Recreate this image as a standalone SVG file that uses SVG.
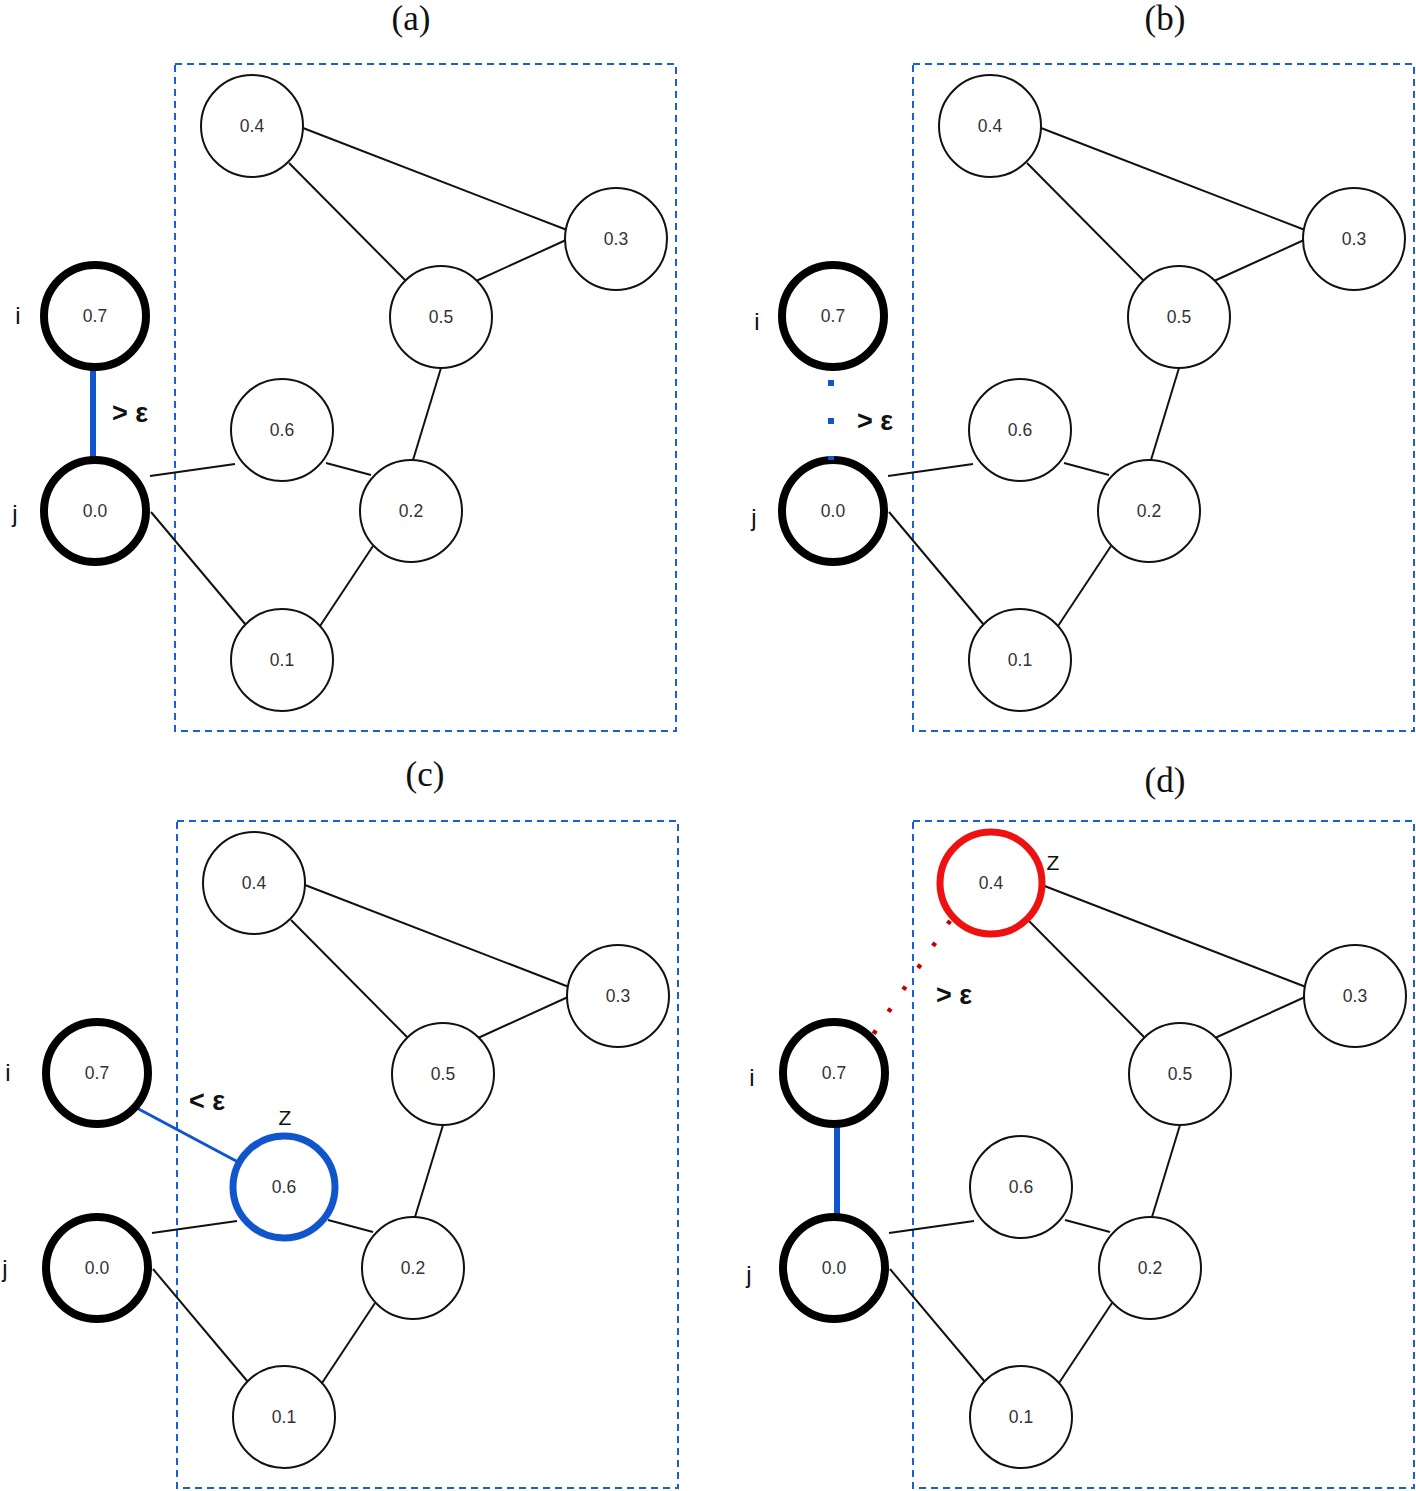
<svg xmlns="http://www.w3.org/2000/svg" width="1416" height="1491" viewBox="0 0 1416 1491">
<style>
  .frame{fill:none;stroke:#1a5fd6;stroke-width:2;stroke-dasharray:7 5}
  .edge{stroke:#111;stroke-width:2;fill:none}
  .node circle{fill:#fff;stroke:#111;stroke-width:2}
  .node.big circle{stroke:#000;stroke-width:8}
  .node.blue circle{stroke:#1155cc;stroke-width:7}
  .node.red circle{stroke:#ee1111;stroke-width:7}
  .node text{font-family:"Liberation Sans",Arial,sans-serif;font-size:17.5px;fill:#333;text-anchor:middle;dominant-baseline:central}
  .title{font-family:"Liberation Serif","DejaVu Serif",serif;font-size:35px;fill:#111;text-anchor:middle}
  .lbl{font-family:"Liberation Sans",Arial,sans-serif;font-size:24px;fill:#111;text-anchor:middle}
  .eps{font-family:"Liberation Sans",Arial,sans-serif;font-size:27px;font-weight:bold;fill:#111}
</style>

<g id="titles">
  <text class="title" x="411" y="30">(a)</text>
  <text class="title" x="1165" y="30">(b)</text>
  <text class="title" x="425" y="786">(c)</text>
  <text class="title" x="1165" y="792">(d)</text>
</g>

<g id="frames">
  <rect class="frame" x="175" y="64" width="501" height="667"/>
  <rect class="frame" x="913" y="64" width="501" height="667"/>
  <rect class="frame" x="177" y="821" width="501" height="667"/>
  <rect class="frame" x="913" y="821" width="501" height="667"/>
</g>

<!-- Panel (a) -->
<g id="connectors-a">
  <line class="edge" x1="303" y1="128" x2="567" y2="230"/>
  <line class="edge" x1="289" y1="163" x2="406" y2="281"/>
  <line class="edge" x1="566" y1="240" x2="476" y2="281"/>
  <line class="edge" x1="441" y1="368" x2="413" y2="460"/>
  <line class="edge" x1="326" y1="463" x2="371" y2="475"/>
  <line class="edge" x1="150" y1="476" x2="235" y2="464"/>
  <line class="edge" x1="151" y1="512" x2="246" y2="625"/>
  <line class="edge" x1="373" y1="546" x2="320" y2="626"/>
  <line x1="93" y1="368" x2="93" y2="459" stroke="#1155cc" stroke-width="6"/>
</g>
<g id="a-n04" class="node"><circle cx="252" cy="126" r="51"/><text x="252" y="126">0.4</text></g>
<g id="a-n03" class="node"><circle cx="616" cy="239" r="51"/><text x="616" y="239">0.3</text></g>
<g id="a-n05" class="node"><circle cx="441" cy="317" r="51"/><text x="441" y="317">0.5</text></g>
<g id="a-n06" class="node"><circle cx="282" cy="430" r="51"/><text x="282" y="430">0.6</text></g>
<g id="a-n02" class="node"><circle cx="411" cy="511" r="51"/><text x="411" y="511">0.2</text></g>
<g id="a-n01" class="node"><circle cx="282" cy="660" r="51"/><text x="282" y="660">0.1</text></g>
<g id="a-ni" class="node big"><circle cx="95" cy="316" r="51"/><text x="95" y="316">0.7</text></g>
<g id="a-nj" class="node big"><circle cx="95" cy="511" r="51"/><text x="95" y="511">0.0</text></g>
<text class="lbl" x="18" y="324">i</text>
<text class="lbl" x="15" y="522">j</text>
<text class="eps" x="112" y="422">&gt; ε</text>

<!-- Panel (b) -->
<g id="connectors-b">
  <g transform="translate(738,0)">
    <line class="edge" x1="303" y1="128" x2="567" y2="230"/>
    <line class="edge" x1="289" y1="163" x2="406" y2="281"/>
    <line class="edge" x1="566" y1="240" x2="476" y2="281"/>
    <line class="edge" x1="441" y1="368" x2="413" y2="460"/>
    <line class="edge" x1="326" y1="463" x2="371" y2="475"/>
    <line class="edge" x1="150" y1="476" x2="235" y2="464"/>
    <line class="edge" x1="151" y1="512" x2="246" y2="625"/>
    <line class="edge" x1="373" y1="546" x2="320" y2="626"/>
  </g>
</g>
<g transform="translate(738,0)">
  <g id="b-n04" class="node"><circle cx="252" cy="126" r="51"/><text x="252" y="126">0.4</text></g>
  <g id="b-n03" class="node"><circle cx="616" cy="239" r="51"/><text x="616" y="239">0.3</text></g>
  <g id="b-n05" class="node"><circle cx="441" cy="317" r="51"/><text x="441" y="317">0.5</text></g>
  <g id="b-n06" class="node"><circle cx="282" cy="430" r="51"/><text x="282" y="430">0.6</text></g>
  <g id="b-n02" class="node"><circle cx="411" cy="511" r="51"/><text x="411" y="511">0.2</text></g>
  <g id="b-n01" class="node"><circle cx="282" cy="660" r="51"/><text x="282" y="660">0.1</text></g>
  <g id="b-ni" class="node big"><circle cx="95" cy="316" r="51"/><text x="95" y="316">0.7</text></g>
  <g id="b-nj" class="node big"><circle cx="95" cy="511" r="51"/><text x="95" y="511">0.0</text></g>
</g>
<g id="connector-b-ij">
  <line x1="831" y1="380" x2="831" y2="460" stroke="#1155cc" stroke-width="6" stroke-dasharray="6 32"/>
</g>
<text class="lbl" x="757" y="330">i</text>
<text class="lbl" x="754" y="526">j</text>
<text class="eps" x="857" y="430">&gt; ε</text>

<!-- Panel (c) -->
<g id="connectors-c">
  <g transform="translate(2,757)">
    <line class="edge" x1="303" y1="128" x2="567" y2="230"/>
    <line class="edge" x1="289" y1="163" x2="406" y2="281"/>
    <line class="edge" x1="566" y1="240" x2="476" y2="281"/>
    <line class="edge" x1="441" y1="368" x2="413" y2="460"/>
    <line class="edge" x1="326" y1="463" x2="371" y2="475"/>
    <line class="edge" x1="150" y1="476" x2="235" y2="464"/>
    <line class="edge" x1="151" y1="512" x2="246" y2="625"/>
    <line class="edge" x1="373" y1="546" x2="320" y2="626"/>
  </g>
  <line x1="133" y1="1106" x2="238" y2="1162" stroke="#1155cc" stroke-width="3"/>
</g>
<g transform="translate(2,757)">
  <g id="c-n04" class="node"><circle cx="252" cy="126" r="51"/><text x="252" y="126">0.4</text></g>
  <g id="c-n03" class="node"><circle cx="616" cy="239" r="51"/><text x="616" y="239">0.3</text></g>
  <g id="c-n05" class="node"><circle cx="441" cy="317" r="51"/><text x="441" y="317">0.5</text></g>
  <g id="c-n06" class="node blue"><circle cx="282" cy="430" r="51"/><text x="282" y="430">0.6</text></g>
  <g id="c-n02" class="node"><circle cx="411" cy="511" r="51"/><text x="411" y="511">0.2</text></g>
  <g id="c-n01" class="node"><circle cx="282" cy="660" r="51"/><text x="282" y="660">0.1</text></g>
  <g id="c-ni" class="node big"><circle cx="95" cy="316" r="51"/><text x="95" y="316">0.7</text></g>
  <g id="c-nj" class="node big"><circle cx="95" cy="511" r="51"/><text x="95" y="511">0.0</text></g>
</g>
<text class="lbl" x="8" y="1081">i</text>
<text class="lbl" x="5" y="1277">j</text>
<text class="eps" x="189" y="1110">&lt; ε</text>
<text class="lbl" x="285" y="1125" style="font-size:21px">Z</text>

<!-- Panel (d) -->
<g id="connectors-d">
  <g transform="translate(739,757)">
    <line class="edge" x1="303" y1="128" x2="567" y2="230"/>
    <line class="edge" x1="289" y1="163" x2="406" y2="281"/>
    <line class="edge" x1="566" y1="240" x2="476" y2="281"/>
    <line class="edge" x1="441" y1="368" x2="413" y2="460"/>
    <line class="edge" x1="326" y1="463" x2="371" y2="475"/>
    <line class="edge" x1="150" y1="476" x2="235" y2="464"/>
    <line class="edge" x1="151" y1="512" x2="246" y2="625"/>
    <line class="edge" x1="373" y1="546" x2="320" y2="626"/>
  </g>
  <line x1="837" y1="1123" x2="837" y2="1216" stroke="#1155cc" stroke-width="6"/>
</g>
<g transform="translate(739,757)">
  <g id="d-n04" class="node red"><circle cx="252" cy="126" r="51"/><text x="252" y="126">0.4</text></g>
  <g id="d-n03" class="node"><circle cx="616" cy="239" r="51"/><text x="616" y="239">0.3</text></g>
  <g id="d-n05" class="node"><circle cx="441" cy="317" r="51"/><text x="441" y="317">0.5</text></g>
  <g id="d-n06" class="node"><circle cx="282" cy="430" r="51"/><text x="282" y="430">0.6</text></g>
  <g id="d-n02" class="node"><circle cx="411" cy="511" r="51"/><text x="411" y="511">0.2</text></g>
  <g id="d-n01" class="node"><circle cx="282" cy="660" r="51"/><text x="282" y="660">0.1</text></g>
  <g id="d-ni" class="node big"><circle cx="95" cy="316" r="51"/><text x="95" y="316">0.7</text></g>
  <g id="d-nj" class="node big"><circle cx="95" cy="511" r="51"/><text x="95" y="511">0.0</text></g>
</g>
<g id="connector-d-iz">
  <line x1="950.1" y1="920.7" x2="871.9" y2="1036.3" stroke="#c40000" stroke-width="4.5" stroke-dasharray="4 22.5"/>
</g>
<text class="lbl" x="752" y="1086">i</text>
<text class="lbl" x="749" y="1283">j</text>
<text class="eps" x="936" y="1004">&gt; ε</text>
<text class="lbl" x="1053" y="870" style="font-size:21px">Z</text>
</svg>
